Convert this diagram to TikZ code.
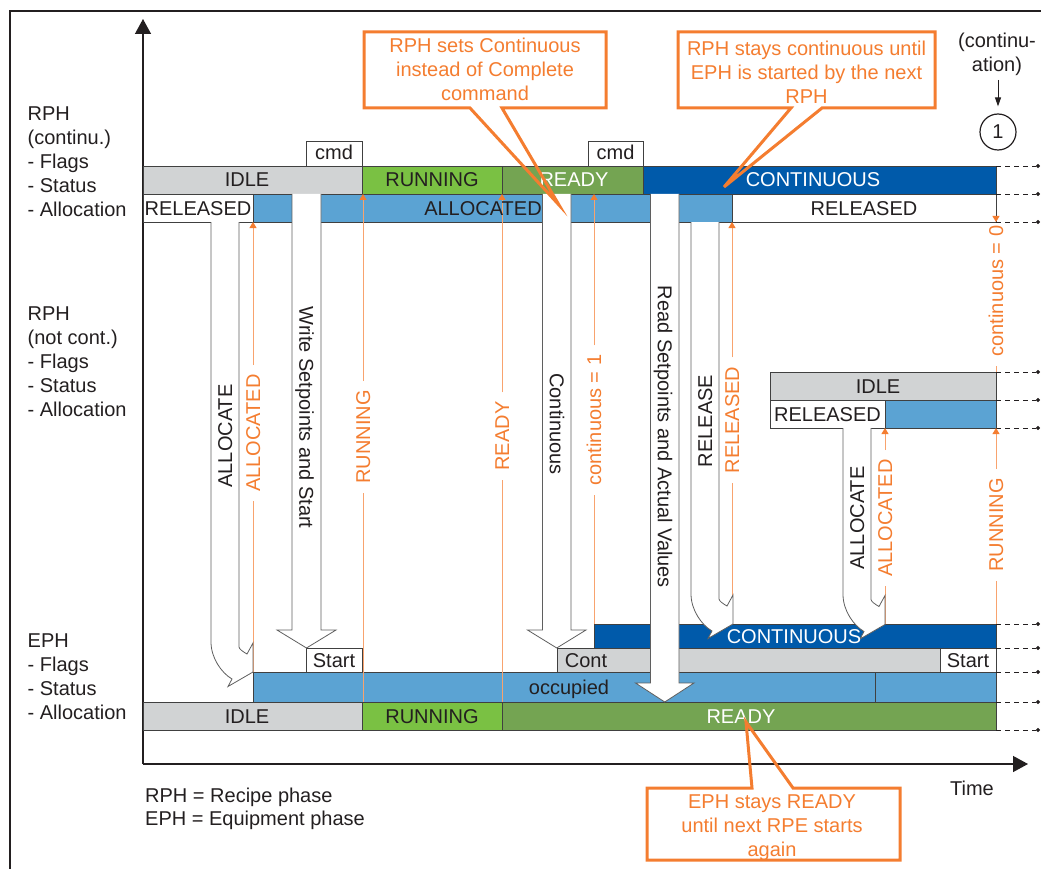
\documentclass[tikz,border=0pt]{standalone}
\usepackage{fontspec}
\setmainfont{Liberation Sans}
\usetikzlibrary{arrows.meta}
\definecolor{gry}{RGB}{209,211,212}
\definecolor{lgreen}{RGB}{122,193,67}
\definecolor{dgreen}{RGB}{116,164,82}
\definecolor{dblue}{RGB}{0,90,170}
\definecolor{mblue}{RGB}{91,163,211}
\definecolor{orng}{RGB}{244,125,48}
\definecolor{orngl}{RGB}{248,163,110}
\definecolor{edge}{RGB}{64,64,64}
\definecolor{arredge}{RGB}{95,95,95}
\definecolor{ink}{RGB}{35,31,32}

% orange status line with a label gap: name, x, y-bottom, y-top, y-label, text
\newcommand\olab[6]{%
  \node[olbl] (#1) at (#2,#5) {#6};
  \coordinate (#1-b) at (#2,#3);
  \coordinate (#1-t) at (#2,#4);
  \draw[oline] (#1-b) -- (#1.west);
  \draw[oarr] (#1.east) -- (#1-t);}

% straight white block arrow: x-left, x-right, y-top, y-head-base, y-tip
\newcommand\sarrow[5]{%
  \pgfmathsetmacro\xa{#1-15}\pgfmathsetmacro\xb{#2+15}\pgfmathsetmacro\xm{(#1+#2)/2}%
  \fill[white] (#1,#3) -- (#1,#4) -- (\xa,#4) -- (\xm,#5) -- (\xb,#4) -- (#2,#4) -- (#2,#3) -- cycle;
  \draw[warr] (#1,#3) -- (#1,#4) -- (\xa,#4) -- (\xm,#5) -- (\xb,#4) -- (#2,#4) -- (#2,#3);}

% bent white block arrow: tip x, tip y, y-top of shaft
\newcommand\barrow[3]{%
  \pgfmathsetmacro\rt{#3-#2}%
  \begin{scope}[shift={(#1,#2)}]
    \fill[white] (-42,\rt) -- (-42,-30) .. controls (-42,-14) and (-31.4,1) .. (-21,7)
      -- (-25,14.5) -- (0,0) -- (0,-29) -- (-6,-18) .. controls (-9.5,-20) and (-14,-23) .. (-14,-25)
      -- (-14,\rt) -- cycle;
    \draw[warr] (-42,\rt) -- (-42,-30) .. controls (-42,-14) and (-31.4,1) .. (-21,7)
      -- (-25,14.5) -- (0,0) -- (0,-29) -- (-6,-18) .. controls (-9.5,-20) and (-14,-23) .. (-14,-25)
      -- (-14,\rt);
  \end{scope}}

\begin{document}
\begin{tikzpicture}[x=1pt,y=-1pt,
  font=\fontsize{20}{24}\selectfont,
  bar/.style={draw=edge, line width=0.8pt},
  t/.style={inner sep=0pt, text=ink, anchor=base},
  tw/.style={t, text=white},
  lbl/.style={inner sep=0pt, text=ink, anchor=base west},
  olbl/.style={rotate=90, text=orng, inner xsep=9pt, inner ysep=0pt, text height=14.4pt, text depth=0pt},
  oline/.style={draw=orngl, line width=1pt},
  oarr/.style={oline, -{Triangle[length=6pt,width=7pt,color=orng]}},
  alab/.style={text=ink, inner sep=0pt, text height=14.4pt, text depth=0pt},
  warr/.style={draw=arredge, line width=0.8pt, line join=miter},
  axis/.style={draw=ink, line width=1.4pt, -{Triangle[length=15pt,width=16pt]}},
  guide/.style={draw=ink, line width=0.8pt, dash pattern=on 5pt off 4pt, -{Circle[length=4pt]}},
  callout/.style={draw=orng, line width=3pt, line join=miter},
  ctext/.style={text=orng, align=center, inner sep=0pt}]
\useasboundingbox (0,0) rectangle (1041,869);

% frame
\draw[draw=ink, line width=1.8pt] (10,869) -- (10,11) -- (1041,11);

% axes
\coordinate (origin) at (143,764);
\coordinate (ytip) at (143,19);
\coordinate (xtip) at (1028,764);
\draw[axis] (origin) -- (ytip);
\draw[axis] (origin) -- (xtip);

% left row labels
\foreach \s/\yy [count=\i] in {RPH/121,(continu.)/145,- Flags/169,- Status/193,- Allocation/217,
  RPH/320,(not cont.)/344,- Flags/368,- Status/392,- Allocation/416,
  EPH/647,- Flags/671,- Status/695,- Allocation/719}
  \node[lbl] (rowlbl\i) at (27.5,\yy) {\s};

% ---- RPH (continuous) rows
\filldraw[bar, fill=white] (306,141) rectangle (362,166);
\filldraw[bar, fill=white] (588,141) rectangle (643,166);
\filldraw[bar, fill=gry] (143,166) rectangle (362,194);
\filldraw[bar, fill=lgreen] (362,166) rectangle (502,194);
\filldraw[bar, fill=dgreen] (502,166) rectangle (643,194);
\filldraw[bar, fill=dblue] (643,166) rectangle (996,194);
\filldraw[bar, fill=white] (143,194) rectangle (253,222);
\filldraw[bar, fill=mblue] (253,194) rectangle (732,222);
\filldraw[bar, fill=white] (732,194) rectangle (996,222);

% ---- RPH (not continuous) rows
\filldraw[bar, fill=gry] (770,372) rectangle (996,400);
\filldraw[bar, fill=white] (770,400) rectangle (885,428);
\filldraw[bar, fill=mblue] (885,400) rectangle (996,428);

% ---- EPH rows
\filldraw[bar, fill=dblue] (594,624) rectangle (996,648);
\filldraw[bar, fill=white] (306,648) rectangle (362,672);
\filldraw[bar, fill=gry] (557,648) rectangle (940,672);
\filldraw[bar, fill=white] (940,648) rectangle (996,672);
\filldraw[bar, fill=mblue] (253,672) rectangle (875,702);
\filldraw[bar, fill=mblue] (875,672) rectangle (996,702);
\filldraw[bar, fill=gry] (143,702) rectangle (362,730);
\filldraw[bar, fill=lgreen] (362,702) rectangle (502,730);
\filldraw[bar, fill=dgreen] (502,702) rectangle (996,730);

% dashed continuation guides
\foreach \yy [count=\i] in {166,194,222,372,400,428,624,648,672,702,730}{
  \coordinate (gs\i) at (996,\yy);
  \coordinate (ge\i) at (1040,\yy);
  \draw[guide] (gs\i) -- (ge\i);}

% orange feedback lines
\olab{oA1}{253}{672}{222}{433}{ALLOCATED}
\olab{oR1}{363}{702}{194}{437}{RUNNING}
\olab{oY1}{502}{702}{194}{436}{READY}
\olab{oC1}{594}{624}{194}{420}{continuous = 1}
\olab{oRel}{732}{624}{222}{420}{RELEASED}
\olab{oA2}{885}{624}{428}{518}{ALLOCATED}
\olab{oR2}{996}{624}{428}{525}{RUNNING}
\olab{oC0}{996}{372}{222}{291}{continuous = 0}

% white command arrows
\sarrow{292}{321}{194}{630}{648}
\sarrow{542.5}{571}{194}{630}{648}
\sarrow{650.5}{679}{194}{683}{702}
\barrow{253}{672}{222}
\barrow{733}{624}{222}
\barrow{885}{624.5}{428}

% arrow texts
\node[alab, rotate=90] (tAlloc1) at (225,436) {ALLOCATE};
\node[alab, rotate=-90] (tWrite) at (306.5,417.5) {Write Setpoints and Start};
\node[alab, rotate=-90] (tCont) at (557,424) {Continuous};
\node[alab, rotate=-90] (tRead) at (665,437) {Read Setpoints and Actual Values};
\node[alab, rotate=90] (tRel) at (705,421) {RELEASE};
\node[alab, rotate=90] (tAlloc2) at (857,518) {ALLOCATE};

% bar texts
\node[t] (cmd1) at (334,160) {cmd};
\node[t] (cmd2) at (615.5,160) {cmd};
\node[t] (s1) at (247,187) {IDLE};
\node[t] (s2) at (432,187) {RUNNING};
\node[tw] (s3) at (574,187) {READY};
\node[tw] (s4) at (813,187) {CONTINUOUS};
\node[t] (a1) at (198,215) {RELEASED};
\node[t] (a2) at (483,215) {ALLOCATED};
\node[t] (a3) at (864,215) {RELEASED};
\node[t] (m1) at (878,393) {IDLE};
\node[t] (m2) at (827.5,421) {RELEASED};
\node[tw] (e1) at (794,643) {CONTINUOUS};
\node[t] (e2) at (334,667) {Start};
\node[t] (e3) at (586,667) {Cont};
\node[t] (e4) at (968,667) {Start};
\node[t] (e5) at (569,694) {occupied};
\node[t] (e6) at (247,723) {IDLE};
\node[t] (e7) at (432,723) {RUNNING};
\node[tw] (e8) at (741,723) {READY};

% continuation marker
\node[t] (cn1) at (997,48) {(continu-};
\node[t] (cn2) at (997,72) {ation)};
\node[draw=ink, circle, line width=1.2pt, minimum size=36pt, inner sep=0pt, text=ink] (one) at (998,132) {1};
\coordinate (cnarr) at (998,80);
\draw[draw=ink, line width=1pt, -{Triangle[length=9pt,width=6pt]}, shorten >=7pt] (cnarr) -- (one.north);

% legend and axis label
\node[t] (time) at (972,795) {Time};
\node[lbl] (leg1) at (145,802) {RPH = Recipe phase};
\node[lbl] (leg2) at (145,825) {EPH = Equipment phase};

% callouts
\draw[callout] (364,32) -- (606,32) -- (606,108) -- (502,108) -- (559,205) -- (470,108) -- (364,108) -- cycle;
\node[ctext] (call1) at (485,69.5) {RPH sets Continuous\\instead of Complete\\command};
\draw[callout] (678,32) -- (935,32) -- (935,108) -- (822,108) -- (724,187) -- (791,108) -- (678,108) -- cycle;
\node[ctext] (call2) at (806.5,72) {RPH stays continuous until\\EPH is started by the next\\RPH};
\draw[callout] (647,788) -- (752,788) -- (746,722) -- (793,788) -- (900,788) -- (900,860) -- (647,860) -- cycle;
\node[ctext] (call3) at (772,828) {EPH stays READY\\until next RPE starts\\again};
\end{tikzpicture}
\end{document}
